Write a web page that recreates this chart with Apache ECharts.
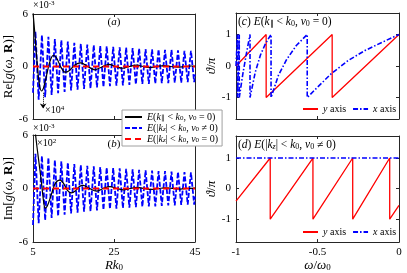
<!DOCTYPE html>
<html><head><meta charset="utf-8">
<script src="https://cdn.jsdelivr.net/npm/echarts@6/dist/echarts.min.js"></script>
<style>html,body{margin:0;padding:0;background:#fff}#c{width:407px;height:273px}</style>
</head><body><div id="c"></div>
<script>
// ---- data ----
const rkBlue = [5.0,5.6,6.4,7.2,8.0,8.8,9.6,10.4,11.2,12.0,12.8,13.6,14.4,15.2,16.0,16.8,17.6,18.4,19.2,20.0,20.8,21.6,22.4,23.2,24.0,24.8,25.6,26.4,27.2,28.0,28.8,29.6,30.4,31.2,32.0,32.8,33.6,34.4,35.2,36.0,36.8,37.6,38.4,39.2,40.0,40.8,41.6,42.4,43.2,44.0,44.8,45.0];
const reBlue = [-3.0,4.0,-3.8,3.6,-3.5,3.4,-3.25,3.15,-3.05,3.0,-2.9,2.85,-2.75,2.7,-2.65,2.6,-2.55,2.5,-2.5,2.45,-2.4,2.35,-2.35,2.3,-2.25,2.25,-2.2,2.2,-2.15,2.15,-2.1,2.1,-2.05,2.05,-2.0,2.0,-2.0,1.95,-1.95,1.95,-1.9,1.9,-1.9,1.9,-1.85,1.85,-1.85,1.8,-1.8,1.8,-1.8,-0.9];
const imBlue = [-4.1,3.9,-3.9,3.65,-3.55,3.45,-3.3,3.2,-3.1,3.05,-2.95,2.9,-2.8,2.75,-2.7,2.65,-2.6,2.55,-2.55,2.5,-2.45,2.4,-2.4,2.35,-2.3,2.3,-2.25,2.25,-2.2,2.2,-2.15,2.15,-2.1,2.1,-2.05,2.05,-2.0,2.0,-2.0,1.95,-1.95,1.95,-1.9,1.9,-1.9,1.85,-1.85,1.85,-1.8,1.8,-1.8,-0.9];
const rkBlackRe = [5.0,5.5,6.0,6.5,7.1,7.7,8.4,9.2,10.0,10.8,11.8,12.9,14.0,15.4,16.8,18.5,20.3,22.0,23.7,25.4,27.1,28.8,30.5,32.2,33.9,35.6,37.3,39.0,40.7,42.4,44.1,45.0];
const reBlack = [6.2,3.5,0.5,-1.8,-2.8,-2.3,-0.9,0.6,1.27,1.0,0.0,-0.65,-0.45,0.2,0.42,0.0,-0.38,-0.05,0.25,0.0,-0.2,0.0,0.15,0.0,-0.12,0.0,0.1,0.0,-0.08,0.0,0.06,0.03];
const rkBlackIm = [5.0,5.5,6.0,6.7,7.2,7.6,8.0,8.5,9.3,10.3,11.0,11.7,12.5,13.5,14.5,15.5,16.4,17.4,18.8,20.7,22.3,24.0,25.7,27.3,29.0,30.7,32.5,34.2,36.0,37.8,39.6,41.4,43.2,45.0];
const imBlack = [8.0,6.5,4.6,2.1,0.2,-1.4,-2.2,-2.0,-1.0,0.4,0.85,0.94,0.6,-0.2,-0.5,-0.25,0.2,0.34,0.05,-0.3,0.0,0.2,0.0,-0.15,0.0,0.12,0.0,-0.1,0.0,0.08,0.0,-0.06,0.0,0.05];
const rkRed = [5, 45];
const reRed = [0, 0];
const imRed = [0, 0];
const omegaRedC = [-1,-0.815,-0.815,-0.41,-0.41,0];
const thetaRedC = [0,1,-1,1,-1,1];
const omegaBlueC = [-1,-0.991,-0.991,-0.980,-0.980,-0.958,-0.936,-0.914,-0.914,-0.882,-0.850,-0.818,-0.785,-0.785,-0.74,-0.69,-0.63,-0.563,-0.563,-0.515,-0.417,-0.313,-0.209,-0.104,0];
const thetaBlueC = [0,1,-1,1,-1,-0.25,0.4,1,-1,-0.2,0.35,0.72,1,-1,-0.3,0.2,0.65,1,-1,-0.75,-0.25,0.17,0.49,0.75,1];
const omegaRedD = [-1,-0.79,-0.79,-0.528,-0.528,-0.284,-0.284,-0.057,-0.057,0];
const thetaRedD = [-0.41,1,-1,1,-1,1,-1,1,-1,-0.55];
const omegaBlueD = [-1,0];
const thetaBlueD = [1,1];
const rkTicks = [5,25,45];
const gTicks = [-6,0,6];
const omegaTicks = [-1,-0.5,0];
const thetaTicks = [-1,0,1];

// ---- helpers ----
const FONT = 'Liberation Serif';
const AX = '#262626';
const zip = (xs, ys) => xs.map((x, i) => [x, ys[i]]);
function richSet(fs) {
  return {
    i: {fontStyle:'italic', fontFamily:FONT, fontSize:fs, color:'#000'},
    b: {fontWeight:'bold', fontFamily:FONT, fontSize:fs, color:'#000'},
    s: {fontFamily:FONT, fontSize:Math.round(fs*0.7), color:'#000', verticalAlign:'bottom', lineHeight:Math.round(fs*0.6)},
    si: {fontFamily:FONT, fontStyle:'italic', fontSize:Math.round(fs*0.7), color:'#000', verticalAlign:'bottom', lineHeight:Math.round(fs*0.6)},
    su: {fontFamily:FONT, fontSize:Math.round(fs*0.7), color:'#000', verticalAlign:'top', lineHeight:Math.round(fs*0.6)}
  };
}
function zrRich(fs) {
  const r = richSet(fs), o = {};
  for (const k in r) { o[k] = Object.assign({}, r[k]); o[k].fill = o[k].color; delete o[k].color; }
  return o;
}
function xAx(gi, min, max, ticks, pos, labels, name, gap) {
  return {type:'value', gridIndex:gi, min, max, position:pos,
    axisLine:{onZero:false, lineStyle:{color:AX, width:1}},
    axisTick:{inside:true, length:3, customValues:ticks, lineStyle:{color:AX}},
    axisLabel:{show:labels, customValues:ticks, margin:5, fontFamily:FONT, fontSize:11, color:'#000'},
    splitLine:{show:false},
    name: name || '', nameLocation:'middle', nameGap: gap || 0,
    nameTextStyle:{fontFamily:FONT, fontSize:13, color:'#000', rich:richSet(13)}};
}
function yAx(gi, min, max, ticks, pos, labels, name, gap) {
  return {type:'value', gridIndex:gi, min, max, position:pos,
    axisLine:{onZero:false, lineStyle:{color:AX, width:1}},
    axisTick:{inside:true, length:3, customValues:ticks, lineStyle:{color:AX}},
    axisLabel:{show:labels, customValues:ticks, margin:5, fontFamily:FONT, fontSize:11, color:'#000'},
    splitLine:{show:false},
    name: name || '', nameLocation:'middle', nameGap: gap || 0, nameRotate:90,
    nameTextStyle:{fontFamily:FONT, fontSize:13, color:'#000', rich:richSet(13)}};
}
const blueDash = {color:'#0000ff', width:1.8, type:[5,2]};
const redDash = {color:'#ff0000', width:2, type:[6,4]};
const blackSolid = {color:'#000000', width:1.2};
const redSolid = {color:'#ff0000', width:1.3};
const blueDashDot = {color:'#0000ff', width:1.6, type:[5,2,1.5,2]};
function ln(name, xi, yi, data, ls, extra) {
  return Object.assign({type:'line', name, xAxisIndex:xi, yAxisIndex:yi, data, symbol:'none', showSymbol:false,
    lineStyle:ls, itemStyle:{color:ls.color}, animation:false, clip:true}, extra || {});
}
const legendNames = {
  E1: '{i|E}({i|k}{s|∥} < {i|k}{s|0}, {i|v}{s|0} = 0)',
  E2: '{i|E}(|{i|k}{si|z}| < {i|k}{s|0}, {i|v}{s|0} ≠ 0)',
  E3: '{i|E}(|{i|k}{si|z}| < {i|k}{s|0}, {i|v}{s|0} = 0)'
};
const hideSym = {opacity:0, borderWidth:0};

const option = {
  backgroundColor:'#fff',
  animation:false,
  grid:[
    {left:33, top:14, width:162, height:105},
    {left:33, top:135, width:162, height:107},
    {left:236, top:13, width:163, height:106},
    {left:236, top:136, width:163, height:108}
  ],
  xAxis:[
    xAx(0,5,45,rkTicks,'bottom',false),
    xAx(0,5,45,rkTicks,'top',false),
    xAx(1,5,45,rkTicks,'bottom',true,'{i|Rk}{s|0}',16),
    xAx(1,5,45,rkTicks,'top',false),
    xAx(2,-1,0,omegaTicks,'bottom',false),
    xAx(2,-1,0,omegaTicks,'top',false),
    xAx(3,-1,0,omegaTicks,'bottom',true,'{i|ω}/{i|ω}{s|0}',15),
    xAx(3,-1,0,omegaTicks,'top',false)
  ],
  yAxis:[
    yAx(0,-6,6,gTicks,'left',true,'Re[{i|g}({i|ω}, {b|R})]',15),
    yAx(0,-6,6,gTicks,'right',false),
    yAx(1,-6,6,gTicks,'left',true,'Im[{i|g}({i|ω}, {b|R})]',15),
    yAx(1,-6,6,gTicks,'right',false),
    yAx(2,-1.68,1.68,thetaTicks,'left',true,'{i|ϑ}/{i|π}',18),
    yAx(2,-1.68,1.68,thetaTicks,'right',false),
    yAx(3,-1.75,1.72,thetaTicks,'left',true,'{i|ϑ}/{i|π}',18),
    yAx(3,-1.75,1.72,thetaTicks,'right',false)
  ],
  legend:[
    {data:['E1','E2','E3'], orient:'vertical', left:122, top:110, itemWidth:17, itemHeight:8, itemGap:1,
     padding:[2,4,2,2], borderColor:'#a0a0a0', borderWidth:1, backgroundColor:'#fff', z:20,
     itemStyle:hideSym,
     formatter:n => legendNames[n], selectedMode:false,
     textStyle:{fontFamily:FONT, fontSize:10, color:'#000', rich:richSet(10)}},
    {data:['y axis','x axis'], orient:'horizontal', left:302, top:104, itemWidth:15, itemHeight:8, itemGap:6, padding:0,
     itemStyle:hideSym,
     formatter:n => n === 'y axis' ? '{i|y} axis' : '{i|x} axis', selectedMode:false,
     textStyle:{fontFamily:FONT, fontSize:10, color:'#000', rich:richSet(10)}},
    {data:['y axis','x axis'], orient:'horizontal', left:302, top:227, itemWidth:15, itemHeight:8, itemGap:6, padding:0,
     itemStyle:hideSym,
     formatter:n => n === 'y axis' ? '{i|y} axis' : '{i|x} axis', selectedMode:false,
     textStyle:{fontFamily:FONT, fontSize:10, color:'#000', rich:richSet(10)}}
  ],
  series:[
    ln('E2',0,0,zip(rkBlue,reBlue),blueDash),
    ln('E1',0,0,zip(rkBlackRe,reBlack),blackSolid,{smooth:0.3,
      markLine:{silent:true, symbol:['none','arrow'], symbolSize:5, label:{show:false},
        lineStyle:{type:'dotted', color:'#000', width:1},
        data:[[{coord:[7.5,-3.0]},{coord:[7.5,-4.8]}]]}}),
    ln('E3',0,0,zip(rkRed,reRed),redDash),
    ln('E2',2,2,zip(rkBlue,imBlue),blueDash),
    ln('E1',2,2,zip(rkBlackIm,imBlack),blackSolid,{smooth:0.3}),
    ln('E3',2,2,zip(rkRed,imRed),redDash),
    ln('y axis',4,4,zip(omegaRedC,thetaRedC),redSolid),
    ln('x axis',4,4,zip(omegaBlueC,thetaBlueC),blueDashDot),
    ln('y axis',6,6,zip(omegaRedD,thetaRedD),redSolid),
    ln('x axis',6,6,zip(omegaBlueD,thetaBlueD),blueDashDot)
  ],
  graphic:[
    {type:'text', x:33, y:5, style:{text:'×10{su|-3}', fontFamily:FONT, fontSize:10, fill:'#000', verticalAlign:'middle', rich:zrRich(10)}},
    {type:'text', x:33, y:128, style:{text:'×10{su|-3}', fontFamily:FONT, fontSize:10, fill:'#000', verticalAlign:'middle', rich:zrRich(10)}},
    {type:'text', x:45, y:110, style:{text:'×10{su|4}', fontFamily:FONT, fontSize:10, fill:'#000', verticalAlign:'middle', rich:zrRich(10)}},
    {type:'text', x:37, y:143, style:{text:'×10{su|2}', fontFamily:FONT, fontSize:10, fill:'#000', verticalAlign:'middle', rich:zrRich(10)}},
    {type:'text', x:114, y:22, style:{text:'({i|a})', fontFamily:FONT, fontSize:11, fill:'#000', align:'center', verticalAlign:'middle', rich:zrRich(11)}},
    {type:'text', x:114, y:144, style:{text:'({i|b})', fontFamily:FONT, fontSize:11, fill:'#000', align:'center', verticalAlign:'middle', rich:zrRich(11)}},
    {type:'text', x:238, y:22, style:{text:'({i|c}) {i|E}({i|k}{s|∥} < {i|k}{s|0}, {i|v}{s|0} = 0)', fontFamily:FONT, fontSize:11.5, fill:'#000', verticalAlign:'middle', rich:zrRich(11.5)}},
    {type:'text', x:238, y:145, style:{text:'({i|d}) {i|E}(|{i|k}{si|z}| < {i|k}{s|0}, {i|v}{s|0} ≠ 0)', fontFamily:FONT, fontSize:11.5, fill:'#000', verticalAlign:'middle', rich:zrRich(11.5)}}
  ]
};
const chart = echarts.init(document.getElementById('c'), null, {renderer:'canvas'});
chart.setOption(option);
</script>
</body></html>
